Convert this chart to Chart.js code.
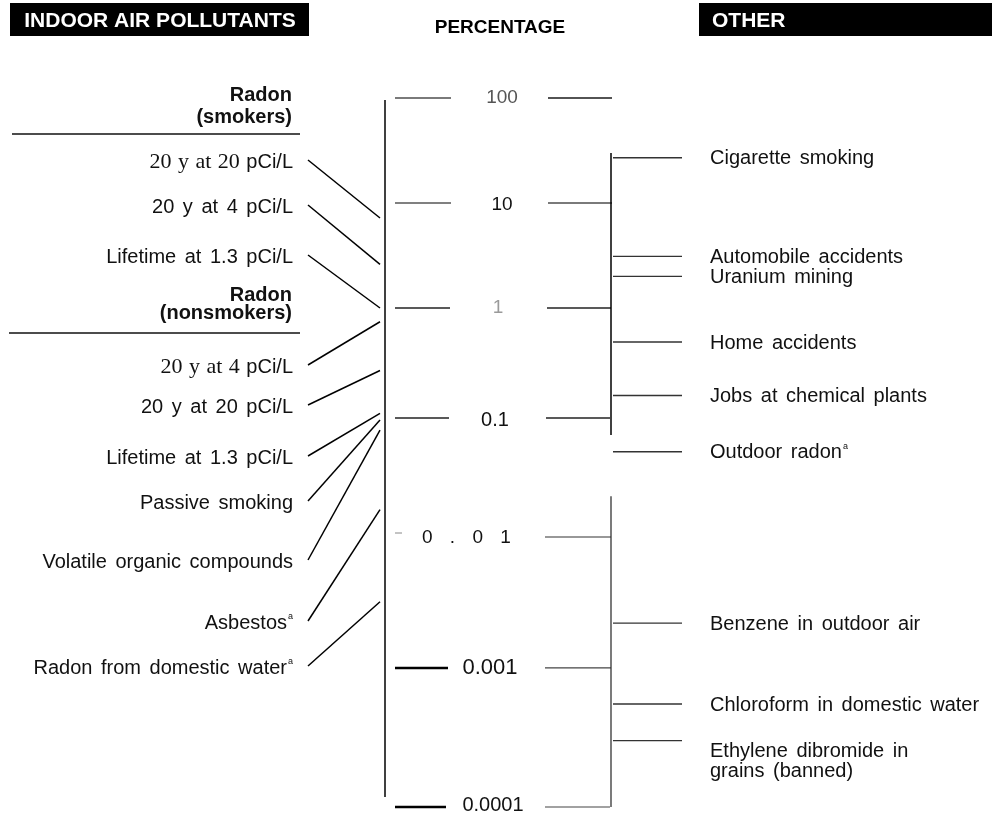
<!DOCTYPE html>
<html>
<head>
<meta charset="utf-8">
<script src="https://cdn.jsdelivr.net/npm/chart.js@4/dist/chart.umd.min.js"></script>
<style>
  html, body { margin: 0; padding: 0; background: #fff; }
  canvas { display: block; }
</style>
</head>
<body>
<canvas id="chart" width="992" height="816"></canvas>
<script>
// ---- Risk values, in percent ----
const tickValues = [100, 10, 1, 0.1, 0.01, 0.001, 0.0001];
const tickLabels = ['100', '10', '1', '0.1', '0 . 0 1', '0.001', '0.0001'];

const smokerLabels = ['20 y at 20 pCi/L', '20 y at 4 pCi/L', 'Lifetime at 1.3 pCi/L'];
const smokerRisk = [7.2, 2.6, 1.0];

const nonsmokerLabels = [
  '20 y at 4 pCi/L', '20 y at 20 pCi/L', 'Lifetime at 1.3 pCi/L', 'Passive smoking',
  'Volatile organic compounds', 'Asbestos', 'Radon from domestic water'
];
const nonsmokerRisk = [0.75, 0.27, 0.11, 0.096, 0.079, 0.017, 0.0032];

const otherLabels = [
  'Cigarette smoking', 'Automobile accidents', 'Uranium mining', 'Home accidents',
  'Jobs at chemical plants', 'Outdoor radon', 'Benzene in outdoor air',
  'Chloroform in domestic water', 'Ethylene dibromide in\ngrains (banned)'
];
const otherRisk = [27, 3.1, 2.0, 0.49, 0.16, 0.052, 0.0022, 0.00055, 0.0003];

// ranges covered by the two bracket lines of the "other" column
const otherBrackets = [[30, 0.072], [0.022, 0.0001]];

// entries carrying footnote "a"
const footnoted = ['Asbestos', 'Radon from domestic water', 'Outdoor radon'];

// ---- Layout ----
const SANS = '"Liberation Sans", Arial, sans-serif';
const SERIF = '"Liberation Serif", "Times New Roman", serif';
const MIN_EXP = -4;
// share of the axis height taken up to each decade (bottom = 0.0001, top = 100)
const DECADE_FRACTIONS = [0, 0.1961, 0.3808, 0.5487, 0.7038, 0.8519, 1];

const LABEL_RIGHT = 293;
const CONNECT_X = [308, 380];
const AXIS_X = 385;
const BRACKET_X = 611;
const OTHER_LINE_X = [613, 682];
const OTHER_TEXT_X = 710;

const groupHeads = [
  { lines: ['Radon', '(smokers)'], y: [95, 117], rule: { y: 134, x: [12, 300] } },
  { lines: ['Radon', '(nonsmokers)'], y: [295, 313], rule: { y: 333, x: [9, 300] } }
];
const smokerTextY = [162, 207, 257];
const nonsmokerTextY = [367, 407, 458, 503, 562, 623, 668];
const smokerSerifLead = [true, false, false];
const nonsmokerSerifLead = [true, false, false, false, false, false, false];

const tickStyles = [
  { left: [395, 451], lc: '#7a7a7a', lw: 2,   right: [548, 612], rc: '#1a1a1a', rw: 1.5, size: 19, color: '#555', cx: 502, dy: 0 },
  { left: [395, 451], lc: '#808080', lw: 2,   right: [548, 612], rc: '#7a7a7a', rw: 2,   size: 19, color: '#111', cx: 502, dy: 2 },
  { left: [395, 450], lc: '#222',    lw: 1.5, right: [547, 611], rc: '#222',    rw: 1.5, size: 19, color: '#9a9a9a', cx: 498, dy: 0 },
  { left: [395, 449], lc: '#222',    lw: 1.5, right: [546, 610], rc: '#222',    rw: 1.5, size: 20, color: '#111', cx: 495, dy: 3 },
  { left: [395, 402], lc: '#888',    lw: 1,   right: [545, 611], rc: '#333',    rw: 1.2, size: 19, color: '#111', lx: 422, dy: 1, spacing: '6px', ldy: -4 },
  { left: [395, 448], lc: '#000',    lw: 2.5, right: [545, 611], rc: '#444',    rw: 1.2, size: 22, color: '#111', cx: 490, dy: 0 },
  { left: [395, 446], lc: '#000',    lw: 2.5, right: [545, 610], rc: '#444',    rw: 1.2, size: 20, color: '#111', cx: 493, dy: -2 }
];

// ---- Log axis whose decades may differ in length ----
const LogScale = Chart.registry.getScale('logarithmic');
class DecadeScale extends LogScale {
  static id = 'decade';
  static defaults = {};
  getPixelForValue(value) {
    if (value === null || value === undefined || isNaN(value) || value <= 0) return NaN;
    const e = Math.log10(value) - MIN_EXP;
    const last = DECADE_FRACTIONS.length - 2;
    const i = Math.max(0, Math.min(last, Math.floor(e)));
    const dec = DECADE_FRACTIONS[i] + (e - i) * (DECADE_FRACTIONS[i + 1] - DECADE_FRACTIONS[i]);
    return this.getPixelForDecimal(dec);
  }
  getValueForPixel(pixel) {
    const dec = this.getDecimalForPixel(pixel);
    const last = DECADE_FRACTIONS.length - 2;
    for (let i = 0; i <= last; i++) {
      const a = DECADE_FRACTIONS[i], b = DECADE_FRACTIONS[i + 1];
      if (dec <= b || i === last) return Math.pow(10, MIN_EXP + i + (dec - a) / (b - a));
    }
  }
}
Chart.register(DecadeScale);

// ---- Drawing helpers ----
function line(ctx, x1, y1, x2, y2, color, width) {
  ctx.save();
  ctx.strokeStyle = color;
  ctx.lineWidth = width;
  ctx.beginPath();
  ctx.moveTo(x1, y1);
  ctx.lineTo(x2, y2);
  ctx.stroke();
  ctx.restore();
}

function runsFor(label, serifLead) {
  const note = footnoted.includes(label);
  if (serifLead) {
    const k = label.indexOf('pCi/L');
    return { runs: [
      { text: label.slice(0, k), font: '22px ' + SERIF, ws: '1px' },
      { text: label.slice(k), font: '20px ' + SANS, ws: '3px' }
    ], note };
  }
  return { runs: [{ text: label, font: '20px ' + SANS, ws: '3px' }], note };
}

function drawRightAligned(ctx, label, serifLead, xRight, y) {
  const { runs, note } = runsFor(label, serifLead);
  ctx.save();
  ctx.fillStyle = '#111';
  ctx.textBaseline = 'middle';
  ctx.textAlign = 'left';
  const end = note ? xRight - 6 : xRight;
  let total = 0;
  runs.forEach(r => { ctx.font = r.font; ctx.wordSpacing = r.ws; total += ctx.measureText(r.text).width; });
  let x = end - total;
  runs.forEach(r => {
    ctx.font = r.font;
    ctx.wordSpacing = r.ws;
    ctx.fillText(r.text, x, y);
    x += ctx.measureText(r.text).width;
  });
  if (note) {
    ctx.wordSpacing = '0px';
    ctx.font = '9px ' + SANS;
    ctx.fillText('a', end + 1, y - 6);
  }
  ctx.restore();
}

function drawLeftAligned(ctx, label, x, y) {
  ctx.save();
  ctx.fillStyle = '#111';
  ctx.textBaseline = 'middle';
  ctx.textAlign = 'left';
  ctx.wordSpacing = '3px';
  ctx.font = '20px ' + SANS;
  const parts = label.split('\n');
  parts.forEach((p, i) => ctx.fillText(p, x, y + i * 20));
  if (footnoted.includes(label)) {
    const w = ctx.measureText(label).width;
    ctx.font = '9px ' + SANS;
    ctx.fillText('a', x + w + 1, y - 6);
  }
  ctx.restore();
}

const diagramPlugin = {
  id: 'riskDiagram',
  afterDatasetsDraw(chart) {
    const ctx = chart.ctx;
    const yScale = chart.scales.y;
    const py = v => yScale.getPixelForValue(v);

    // column headings
    ctx.save();
    ctx.fillStyle = '#000';
    ctx.fillRect(10, 3, 299, 33);
    ctx.fillRect(699, 3, 293, 33);
    ctx.fillStyle = '#fff';
    ctx.font = 'bold 21px ' + SANS;
    ctx.textBaseline = 'middle';
    ctx.textAlign = 'center';
    ctx.fillText('INDOOR AIR POLLUTANTS', 160, 21);
    ctx.textAlign = 'left';
    ctx.fillText('OTHER', 712, 21);
    ctx.fillStyle = '#000';
    ctx.font = 'bold 19px ' + SANS;
    ctx.textAlign = 'center';
    ctx.fillText('PERCENTAGE', 500, 28);
    ctx.restore();

    // percentage axis
    line(ctx, AXIS_X, yScale.top + 2, AXIS_X, yScale.bottom - 10, '#000', 1.5);
    tickValues.forEach((v, i) => {
      const s = tickStyles[i];
      const y = py(v);
      line(ctx, s.left[0], y + (s.ldy || 0), s.left[1], y + (s.ldy || 0), s.lc, s.lw);
      line(ctx, s.right[0], y, s.right[1], y, s.rc, s.rw);
      ctx.save();
      ctx.fillStyle = s.color;
      ctx.font = s.size + 'px ' + SANS;
      ctx.textBaseline = 'middle';
      if (s.spacing) {
        ctx.letterSpacing = s.spacing;
        ctx.textAlign = 'left';
        ctx.fillText(tickLabels[i], s.lx, y + s.dy);
      } else {
        ctx.textAlign = 'center';
        ctx.fillText(tickLabels[i], s.cx, y + s.dy);
      }
      ctx.restore();
    });

    // brackets of the "other" column
    otherBrackets.forEach(([hi, lo], i) => {
      line(ctx, BRACKET_X, py(hi), BRACKET_X, py(lo), i === 0 ? '#000' : '#333', i === 0 ? 1.5 : 1.3);
    });

    // radon group headings
    groupHeads.forEach(g => {
      ctx.save();
      ctx.fillStyle = '#111';
      ctx.font = 'bold 20px ' + SANS;
      ctx.textAlign = 'right';
      ctx.textBaseline = 'middle';
      g.lines.forEach((t, i) => ctx.fillText(t, 292, g.y[i]));
      ctx.restore();
      line(ctx, g.rule.x[0], g.rule.y, g.rule.x[1], g.rule.y, '#111', 1.6);
    });

    // indoor pollutants: label and connector to the axis
    const drawIndoor = (labels, risk, textY, serif) => {
      labels.forEach((lab, i) => {
        drawRightAligned(ctx, lab, serif[i], LABEL_RIGHT, textY[i]);
        line(ctx, CONNECT_X[0], textY[i] - 2, CONNECT_X[1], py(risk[i]), '#000', 1.5);
      });
    };
    drawIndoor(smokerLabels, smokerRisk, smokerTextY, smokerSerifLead);
    drawIndoor(nonsmokerLabels, nonsmokerRisk, nonsmokerTextY, nonsmokerSerifLead);

    // other risks: labels beside their lines
    otherLabels.forEach((lab, i) => {
      const y = py(otherRisk[i]);
      const multi = lab.includes('\n');
      drawLeftAligned(ctx, lab, OTHER_TEXT_X, multi ? y + 11 : y + 1);
    });
  }
};

const otherDatasets = otherRisk.map((v, i) => ({
  label: otherLabels[i],
  data: [{ x: OTHER_LINE_X[0], y: v }, { x: OTHER_LINE_X[1], y: v }],
  showLine: true,
  borderColor: '#333',
  borderWidth: 1.4,
  pointRadius: 0,
  clip: false
}));

new Chart(document.getElementById('chart'), {
  type: 'scatter',
  data: { datasets: otherDatasets },
  options: {
    responsive: false,
    animation: false,
    events: [],
    layout: { padding: { top: 98, bottom: 9, left: 0, right: 0 } },
    plugins: {
      legend: { display: false },
      tooltip: { enabled: false },
      title: { display: false }
    },
    scales: {
      x: { type: 'linear', min: 0, max: 992, display: false },
      y: { type: 'decade', min: 0.0001, max: 100, display: false }
    }
  },
  plugins: [diagramPlugin]
});
</script>
</body>
</html>
